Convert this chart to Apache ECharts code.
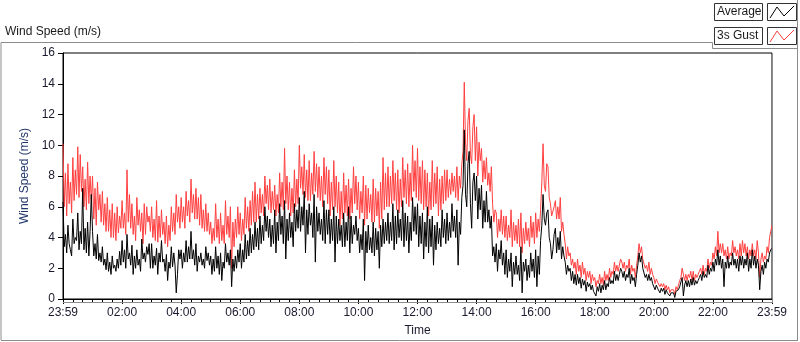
<!DOCTYPE html>
<html>
<head>
<meta charset="utf-8">
<script src="https://cdn.jsdelivr.net/npm/echarts@6/dist/echarts.min.js"></script>
<style>
html,body{margin:0;padding:0;background:#fff;}
#main{width:800px;height:342px;}
</style>
</head>
<body>
<div id="main"></div>
<script>
// minutes after 23:59, one reading every 2.5 minutes (one row = one hour)
var STEP = 2.5;
var TICK_LABELS = ['23:59','02:00','04:00','06:00','08:00','10:00','12:00','14:00','16:00','18:00','20:00','22:00','23:59'];

var gust = [
  10.1, 6.0, 8.2, 5.4, 8.8, 6.2, 7.6, 5.6, 9.2, 6.4, 8.4, 6.8, 9.9, 6.6, 9.4, 7.0, 8.6, 6.0, 7.8, 5.8, 8.9, 6.2, 8.0, 6.4,
  8.0, 5.2, 7.2, 4.8, 7.6, 5.8, 6.8, 5.0, 7.0, 4.8, 6.2, 4.4, 6.6, 4.4, 5.8, 4.0, 6.2, 4.0, 5.6, 3.8, 6.0, 4.3, 5.4, 4.6,
  6.4, 4.6, 5.6, 4.2, 8.4, 5.0, 6.8, 4.6, 6.2, 4.2, 5.4, 3.8, 6.6, 4.8, 5.8, 4.4, 5.6, 3.6, 6.2, 4.2, 6.0, 5.0, 5.4, 4.4,
  6.0, 4.0, 5.2, 3.8, 6.4, 3.7, 5.4, 4.0, 5.8, 4.2, 5.0, 3.6, 5.4, 3.4, 4.8, 3.8, 6.0, 4.4, 5.6, 4.2, 6.8, 5.0, 6.0, 4.6,
  6.6, 5.0, 6.0, 4.6, 7.0, 5.4, 6.4, 5.0, 7.8, 5.6, 6.8, 5.2, 7.2, 5.2, 6.6, 4.8, 6.8, 4.6, 5.8, 4.4, 6.2, 4.4, 5.6, 4.2,
  5.0, 3.6, 4.6, 3.8, 6.2, 4.0, 5.2, 3.6, 5.6, 3.8, 4.8, 3.6, 6.4, 4.2, 5.4, 4.0, 6.0, 2.0, 5.0, 3.4, 5.2, 4.0, 6.0, 4.2,
  5.6, 3.8, 5.2, 4.2, 6.6, 4.6, 6.0, 4.4, 6.4, 4.8, 7.0, 5.0, 7.6, 5.0, 6.8, 5.2, 7.2, 5.6, 6.8, 5.4, 8.0, 6.2, 7.4, 5.8,
  7.8, 5.6, 7.0, 5.8, 7.4, 5.4, 6.8, 5.6, 8.2, 6.0, 7.6, 5.8, 9.8, 6.2, 8.0, 5.8, 7.6, 5.4, 7.2, 5.6, 8.4, 6.0, 7.8, 6.2,
  10.0, 7.2, 8.6, 6.8, 9.4, 6.6, 8.4, 6.4, 9.0, 6.4, 8.2, 6.8, 9.6, 7.0, 8.8, 6.6, 8.6, 6.4, 8.0, 6.0, 9.2, 6.8, 8.6, 6.2,
  8.4, 5.4, 7.6, 5.8, 9.0, 6.0, 8.0, 5.6, 7.6, 4.8, 7.0, 5.2, 8.2, 5.6, 7.4, 5.4, 7.8, 5.2, 7.2, 5.6, 8.6, 6.2, 8.0, 5.8,
  7.6, 5.2, 7.0, 5.6, 8.0, 4.8, 7.4, 5.2, 7.2, 5.6, 6.8, 5.0, 7.8, 5.0, 7.2, 5.4, 7.0, 4.6, 7.6, 5.2, 9.2, 5.8, 8.2, 6.0,
  8.6, 6.0, 8.0, 6.2, 9.0, 6.4, 8.2, 5.8, 8.4, 5.6, 7.8, 6.0, 9.2, 6.6, 8.4, 6.2, 8.8, 6.0, 8.2, 6.4, 10.0, 7.0, 9.0, 6.6,
  9.8, 6.4, 8.6, 6.2, 9.0, 5.8, 8.4, 6.0, 8.2, 5.4, 7.6, 5.8, 9.0, 6.0, 8.2, 6.2, 8.6, 5.4, 7.8, 5.8, 8.0, 6.2, 8.4, 6.4,
  8.4, 6.6, 7.8, 6.8, 8.2, 7.0, 8.0, 6.6, 8.6, 6.4, 8.0, 7.2, 8.8, 9.6, 14.1, 10.2, 9.0, 11.6, 12.4, 9.4, 8.8, 11.2, 12.0, 9.0,
  11.2, 8.0, 10.2, 9.0, 9.8, 7.6, 9.0, 7.8, 9.2, 7.4, 8.2, 7.0, 8.6, 6.2, 5.0, 5.8, 5.6, 4.0, 5.2, 4.4, 5.8, 4.2, 5.4, 4.0,
  5.4, 3.8, 4.8, 4.0, 5.8, 3.4, 5.0, 3.8, 4.8, 3.6, 5.2, 3.4, 5.6, 3.0, 4.6, 3.6, 5.0, 3.8, 4.6, 3.4, 5.4, 4.0, 5.0, 3.6,
  5.6, 4.0, 5.2, 4.4, 5.8, 7.6, 10.1, 7.4, 7.0, 8.8, 8.6, 6.6, 6.2, 5.4, 5.4, 6.0, 6.4, 5.2, 6.0, 5.2, 6.6, 4.4, 5.0, 4.2,
  3.6, 2.6, 3.4, 2.8, 3.0, 2.2, 2.6, 2.0, 2.4, 1.6, 2.6, 1.8, 2.2, 1.4, 2.4, 1.6, 2.0, 1.2, 1.8, 1.4, 1.8, 1.0, 1.6, 1.2,
  1.4, 0.8, 1.2, 1.0, 1.6, 1.0, 1.4, 0.9, 1.8, 1.2, 1.6, 1.2, 2.0, 1.4, 1.8, 1.6, 2.4, 1.8, 2.2, 1.8, 2.2, 2.6, 2.4, 2.0,
  2.4, 1.8, 2.2, 2.0, 2.6, 1.6, 2.2, 1.8, 2.0, 1.4, 2.2, 2.8, 3.6, 3.0, 3.4, 2.6, 2.6, 2.0, 2.2, 1.8, 2.4, 1.6, 2.0, 1.6,
  1.4, 1.0, 1.3, 1.1, 1.2, 0.8, 1.0, 0.8, 1.0, 0.6, 0.9, 0.6, 0.8, 0.4, 0.6, 0.5, 0.6, 0.3, 0.8, 0.6, 0.9, 1.2, 1.4, 2.0,
  2.0, 1.2, 1.6, 1.2, 1.6, 1.4, 1.8, 1.2, 1.8, 1.2, 1.6, 1.4, 1.6, 1.8, 2.0, 1.6, 2.2, 1.6, 2.0, 1.8, 2.6, 2.0, 2.4, 2.2,
  3.0, 2.6, 3.4, 2.8, 4.4, 3.0, 3.6, 3.0, 3.6, 2.8, 3.2, 2.6, 3.4, 2.6, 3.0, 2.8, 3.8, 3.0, 3.4, 2.8, 3.2, 2.6, 3.6, 2.8,
  3.8, 3.0, 3.6, 2.8, 3.4, 2.6, 3.2, 2.8, 3.6, 2.8, 3.2, 2.6, 3.8, 3.0, 1.4, 2.6, 3.0, 2.4, 2.8, 2.6, 3.4, 3.0, 4.0, 4.4,
  4.8
];

var average = [
  6.3, 3.4, 4.2, 3.0, 4.8, 3.6, 3.2, 2.8, 5.2, 3.6, 4.0, 3.8, 5.6, 3.2, 4.4, 3.6, 7.2, 3.2, 4.6, 3.0, 5.0, 2.8, 4.4, 6.8,
  4.4, 2.8, 3.6, 2.6, 4.2, 2.5, 3.0, 2.4, 3.4, 2.2, 2.6, 1.9, 3.0, 1.8, 2.4, 1.6, 2.8, 2.0, 2.2, 1.8, 2.6, 2.0, 3.1, 2.2,
  3.8, 2.4, 3.2, 2.0, 4.2, 2.6, 3.0, 2.2, 3.5, 1.6, 2.8, 2.0, 3.2, 2.2, 2.6, 1.8, 3.9, 2.6, 3.0, 2.4, 3.4, 2.9, 3.6, 2.0,
  3.6, 2.0, 2.8, 2.2, 3.3, 1.6, 3.0, 2.4, 3.8, 2.4, 2.6, 1.8, 2.9, 1.2, 2.4, 2.0, 3.4, 2.1, 3.0, 2.2, 0.4, 1.6, 3.2, 2.6,
  3.2, 2.0, 3.0, 2.4, 3.8, 2.4, 3.4, 2.6, 4.4, 2.6, 3.2, 2.2, 3.6, 1.8, 2.8, 2.4, 3.0, 2.2, 2.6, 2.0, 3.4, 2.5, 3.0, 2.2,
  2.8, 1.6, 2.6, 1.8, 3.4, 2.0, 2.8, 1.6, 3.0, 1.2, 2.4, 2.0, 3.6, 2.4, 3.0, 2.2, 3.2, 0.8, 2.6, 1.8, 2.8, 2.0, 3.2, 2.4,
  3.6, 2.0, 3.2, 2.4, 4.2, 2.6, 3.8, 2.8, 4.6, 3.0, 4.2, 3.2, 5.0, 3.4, 4.6, 3.2, 5.4, 3.6, 4.8, 3.8, 6.0, 4.4, 5.4, 4.0,
  5.2, 3.4, 4.8, 3.6, 5.8, 3.0, 5.0, 3.8, 6.2, 4.2, 5.4, 3.6, 6.4, 2.6, 5.2, 3.8, 5.6, 4.0, 5.0, 3.4, 6.2, 4.4, 5.8, 4.6,
  6.6, 4.4, 6.0, 4.8, 7.0, 3.0, 5.8, 4.2, 6.2, 4.8, 5.6, 4.0, 6.8, 2.4, 6.0, 4.4, 5.6, 4.2, 5.2, 3.8, 6.4, 3.6, 5.8, 4.2,
  5.8, 3.6, 5.2, 3.8, 6.0, 2.4, 5.4, 3.6, 5.2, 3.8, 4.8, 3.4, 5.6, 3.4, 5.0, 3.8, 6.0, 3.0, 5.4, 3.6, 4.8, 4.2, 5.4, 3.8,
  4.6, 3.0, 4.2, 3.2, 5.2, 1.2, 4.4, 3.0, 4.8, 3.2, 4.0, 3.0, 5.0, 2.8, 4.6, 3.2, 4.4, 2.0, 4.8, 3.4, 5.2, 3.6, 5.0, 3.8,
  5.6, 3.6, 5.0, 3.8, 6.2, 3.2, 5.4, 3.6, 5.8, 4.0, 5.2, 3.8, 6.4, 3.4, 5.6, 3.8, 5.4, 3.0, 5.0, 3.8, 6.6, 4.4, 6.0, 4.2,
  6.2, 3.4, 5.4, 3.6, 5.6, 2.6, 5.0, 3.4, 6.0, 3.0, 5.2, 3.4, 5.4, 2.2, 4.8, 3.2, 5.0, 3.6, 4.6, 3.4, 5.8, 4.0, 5.2, 3.6,
  5.6, 3.8, 5.0, 4.0, 6.2, 4.4, 5.4, 4.0, 5.8, 2.2, 5.0, 4.2, 6.6, 7.4, 11.0, 6.8, 6.0, 8.8, 9.6, 6.2, 4.6, 7.6, 8.2, 6.4,
  8.0, 5.2, 7.2, 5.8, 7.4, 4.6, 6.4, 5.0, 7.0, 5.0, 5.8, 4.6, 5.4, 2.8, 3.4, 2.4, 3.6, 1.8, 3.2, 2.6, 3.8, 2.2, 3.0, 1.6,
  3.2, 1.4, 2.6, 1.8, 3.0, 0.8, 2.4, 1.6, 2.8, 1.6, 2.2, 1.2, 3.4, 0.4, 2.4, 1.8, 2.6, 1.2, 2.2, 1.4, 3.0, 1.8, 2.6, 1.4,
  3.2, 0.8, 2.8, 1.6, 3.8, 4.8, 6.8, 5.2, 4.8, 5.6, 5.8, 4.0, 3.6, 2.6, 3.2, 4.2, 4.6, 3.0, 4.0, 3.2, 4.4, 2.6, 3.4, 2.8,
  2.4, 1.6, 2.2, 1.8, 2.0, 1.2, 1.8, 1.0, 1.6, 0.9, 1.6, 1.0, 1.4, 0.7, 1.3, 0.9, 1.2, 0.5, 1.1, 0.8, 1.0, 0.6, 0.9, 0.5,
  0.6, 0.2, 0.8, 0.5, 1.0, 0.4, 0.9, 0.6, 1.2, 0.6, 1.0, 0.8, 1.4, 1.0, 1.2, 1.0, 1.8, 1.2, 1.6, 1.2, 1.6, 2.0, 1.8, 1.4,
  1.8, 1.2, 1.6, 1.4, 2.0, 1.0, 1.6, 1.2, 1.4, 0.8, 1.6, 2.2, 3.0, 2.4, 2.8, 2.0, 2.0, 1.4, 1.6, 1.2, 1.6, 1.2, 1.4, 1.0,
  1.0, 0.6, 0.9, 0.7, 0.8, 0.4, 0.7, 0.5, 0.7, 0.3, 0.6, 0.4, 0.5, 0.2, 0.4, 0.3, 0.4, 0.1, 0.5, 0.4, 0.6, 0.8, 0.9, 1.4,
  0.2, 0.9, 1.2, 0.8, 1.2, 0.8, 1.3, 0.9, 1.4, 0.9, 1.2, 1.0, 1.2, 1.4, 1.6, 1.2, 1.8, 1.4, 1.6, 1.4, 2.2, 1.6, 2.0, 1.8,
  2.4, 1.8, 2.6, 2.2, 3.2, 2.2, 2.8, 2.0, 2.6, 0.8, 2.4, 2.0, 2.8, 2.0, 2.4, 2.2, 3.0, 2.2, 2.6, 2.0, 2.6, 1.8, 2.8, 2.2,
  2.8, 2.0, 2.6, 2.2, 3.0, 1.8, 2.6, 2.0, 3.2, 2.2, 2.8, 2.0, 2.6, 2.2, 0.6, 1.8, 2.2, 1.6, 2.4, 2.0, 2.6, 2.4, 3.0, 3.2,
  3.3
];

function toPairs(arr) {
    return arr.map(function (v, i) { return [i * STEP, v]; });
}

var chart = echarts.init(document.getElementById('main'));
var FONT = 'Liberation Sans';
var option = {
    animation: false,
    backgroundColor: '#fff',
    grid: {left: 63, top: 53, width: 709, height: 249, show: true, borderColor: '#000', borderWidth: 1},
    xAxis: {
        type: 'value',
        min: 0,
        max: 1440,
        interval: 120,
        name: 'Time',
        nameLocation: 'middle',
        nameGap: 26,
        nameTextStyle: {color: '#1a1a2e', fontFamily: FONT, fontSize: 12},
        axisLine: {show: true, lineStyle: {color: '#000'}},
        axisTick: {show: true, length: 5, lineStyle: {color: '#000'}},
        minorTick: {show: true, splitNumber: 6, length: 3, lineStyle: {color: '#000'}},
        splitLine: {show: false},
        axisLabel: {
            color: '#1a1a2e', fontFamily: FONT, fontSize: 12, margin: 8,
            formatter: function (v) { return TICK_LABELS[Math.round(v / 120)]; }
        }
    },
    yAxis: {
        type: 'value',
        min: 0,
        max: 16,
        interval: 2,
        name: 'Wind Speed (m/s)',
        nameLocation: 'middle',
        nameGap: 28,
        nameTextStyle: {color: '#23386b', fontFamily: FONT, fontSize: 12},
        axisLine: {show: true, lineStyle: {color: '#000'}},
        axisTick: {show: true, length: 5, lineStyle: {color: '#000'}},
        splitLine: {show: false},
        axisLabel: {color: '#1a1a2e', fontFamily: FONT, fontSize: 12, margin: 8}
    },
    series: [
        {
            name: '3s Gust',
            type: 'line',
            showSymbol: false,
            data: toPairs(gust),
            lineStyle: {color: '#ff4040', width: 1},
            itemStyle: {color: '#ff4040'}
        },
        {
            name: 'Average',
            type: 'line',
            showSymbol: false,
            data: toPairs(average),
            lineStyle: {color: '#000', width: 1},
            itemStyle: {color: '#000'}
        }
    ],
    graphic: [
        // panel frame
        {type: 'polyline', shape: {points: [[1, 340], [1, 42.5], [712.5, 42.5], [712.5, 48.5], [797.5, 48.5]]},
            style: {stroke: '#8c8c8c', fill: null, lineWidth: 1}},
        {type: 'line', shape: {x1: 797.5, y1: 0, x2: 797.5, y2: 340}, style: {stroke: '#8c8c8c', lineWidth: 1}},
        {type: 'line', shape: {x1: 1, y1: 340.5, x2: 798, y2: 340.5}, style: {stroke: '#8c8c8c', lineWidth: 1}},
        // grey lower/right edge of plot
        {type: 'line', shape: {x1: 63, y1: 302.5, x2: 773, y2: 302.5}, style: {stroke: '#8c8c8c', lineWidth: 1}, z: 10},
        {type: 'line', shape: {x1: 772.5, y1: 53, x2: 772.5, y2: 303}, style: {stroke: '#8c8c8c', lineWidth: 1}, z: 10},
        {type: 'text', left: 5, top: 26, style: {text: 'Wind Speed (m/s)', fill: '#1a1a1a', font: '12px ' + FONT}},
        // legend
        {type: 'rect', shape: {x: 714.5, y: 3.5, width: 48, height: 17}, style: {fill: '#fff', stroke: '#333', lineWidth: 1}},
        {type: 'text', left: 717, top: 6, style: {text: 'Average', fill: '#1a1a1a', font: '12px ' + FONT}},
        {type: 'rect', shape: {x: 767.5, y: 3.5, width: 29, height: 17}, style: {fill: '#fff', stroke: '#333', lineWidth: 1}},
        {type: 'polyline', shape: {points: [[770, 18], [777, 7], [784, 16], [794, 6]]}, style: {stroke: '#000', fill: null, lineWidth: 1}},
        {type: 'rect', shape: {x: 714.5, y: 27.5, width: 48, height: 17}, style: {fill: '#fff', stroke: '#333', lineWidth: 1}},
        {type: 'text', left: 717, top: 30, style: {text: '3s Gust', fill: '#1a1a1a', font: '12px ' + FONT}},
        {type: 'rect', shape: {x: 767.5, y: 27.5, width: 29, height: 17}, style: {fill: '#fff', stroke: '#333', lineWidth: 1}},
        {type: 'polyline', shape: {points: [[770, 42], [777, 31], [784, 40], [794, 30]]}, style: {stroke: '#ff4040', fill: null, lineWidth: 1}}
    ]
};
chart.setOption(option);
</script>
</body>
</html>
